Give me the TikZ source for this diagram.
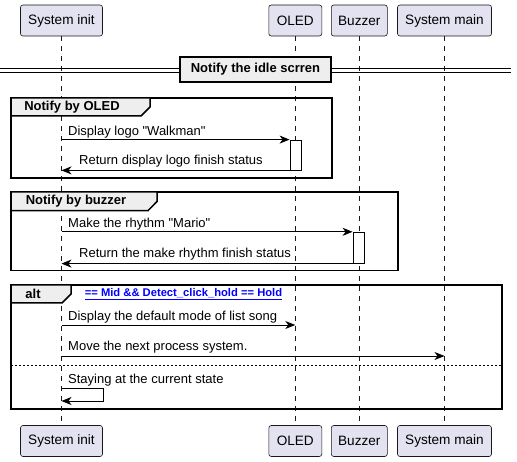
\documentclass[tikz,border=0pt]{standalone}
\usepackage{fontspec}
\setmainfont{Liberation Sans}[Ligatures=TeXOff]
\usetikzlibrary{arrows.meta}
\definecolor{partfill}{HTML}{E2E2F0}
\definecolor{grpfill}{HTML}{EEEEEE}
\definecolor{linegray}{HTML}{181818}
\tikzset{
  participant/.style={draw=linegray, fill=partfill, rounded corners=2.5pt, minimum height=31pt,
    inner sep=0pt, line width=0.6pt, font=\fontsize{13.6}{15}\selectfont},
  lifeline/.style={draw=linegray, line width=0.5pt, dash pattern=on 5pt off 5pt},
  msg/.style={-{Stealth[length=10pt,width=8pt,inset=3pt]}, line width=0.9pt},
  msgtext/.style={anchor=base west, inner sep=0pt, font=\fontsize{13}{15}\selectfont},
  frame/.style={line width=1.5pt},
  tab/.style={fill=grpfill, line width=1.5pt},
  grptitle/.style={inner sep=0pt, font=\fontsize{13}{15}\selectfont\bfseries},
  act/.style={draw, fill=white, line width=0.8pt, inner sep=0pt, minimum width=11pt},
}
\begin{document}
\begin{tikzpicture}[x=1pt,y=-1pt]
\useasboundingbox (0,0) rectangle (517,462);
% participants
\node[participant, minimum width=82pt] (init) at (61.5,20.5) {System init};
\node[participant, minimum width=53pt] (oled) at (295.3,20.5) {OLED};
\node[participant, minimum width=56pt] (buzz) at (359.3,20.5) {Buzzer};
\node[participant, minimum width=94pt] (main) at (444.5,20.5) {System main};
\node[participant, minimum width=82pt] (init-b) at (61.5,441) {System init};
\node[participant, minimum width=53pt] (oled-b) at (295.3,441) {OLED};
\node[participant, minimum width=56pt] (buzz-b) at (359.3,441) {Buzzer};
\node[participant, minimum width=94pt] (main-b) at (444.5,441) {System main};
\foreach \p in {init,oled,buzz,main}
  \draw[lifeline] (\p.south) -- (\p-b.north);

% divider
\draw[line width=0.9pt] (0,68) -- (511,68);
\draw[line width=0.9pt] (0,72) -- (511,72);
\node[draw, fill=grpfill, line width=1.5pt, minimum width=151pt, minimum height=25pt, grptitle] (idle) at (255.5,69.5) {Notify the idle scrren};

% group OLED
\draw[frame] (11,98) rectangle (332,178);
\draw[tab] (11,98) -- (150,98) -- (150,107) -- (141,116) -- (11,116) -- cycle;
\node[grptitle] (g1) at (72,107) {Notify by OLED};
\node[act, minimum height=30pt] (a1) at (295.5,155) {};
\node[msgtext] (t1) at (68,135.5) {Display logo "Walkman"};
\draw[msg] (init |- a1.north) -- (a1.north west);
\node[msgtext] (t2) at (79,164.5) {Return display logo finish status};
\draw[msg] (a1.south west) -- (init |- a1.south);

% group buzzer
\draw[frame] (11,192) rectangle (398,270.7);
\draw[tab] (11,192) -- (157,192) -- (157,201.5) -- (148,210.7) -- (11,210.7) -- cycle;
\node[grptitle] (g2) at (76,201.5) {Notify by buzzer};
\node[act, minimum height=31pt] (a2) at (358.5,247.7) {};
\node[msgtext] (t3) at (68,227.5) {Make the rhythm "Mario"};
\draw[msg] (init |- a2.north) -- (a2.north west);
\node[msgtext] (t4) at (79,257.5) {Return the make rhythm finish status};
\draw[msg] (a2.south west) -- (init |- a2.south);

% alt
\draw[frame] (11,285) rectangle (502,409);
\draw[tab] (11,285) -- (71,285) -- (71,294) -- (62,303) -- (11,303) -- cycle;
\node[grptitle] (g3) at (33,294) {alt};
\node[inner sep=0pt, text=blue, font=\fontsize{11.2}{13}\selectfont\bfseries] (cond) at (183.5,294) {\underline{== Mid \&\& Detect\_click\_hold == Hold}};
\node[msgtext] (t5) at (68,320.5) {Display the default mode of list song};
\draw[msg] (init |- 0,325) -- (oled |- 0,325);
\node[msgtext] (t6) at (68,351) {Move the next process system.};
\draw[msg] (init |- 0,356) -- (main |- 0,356);
\draw[line width=0.8pt, dash pattern=on 2pt off 2pt] (11,365) -- (502,365);
\node[msgtext] (t7) at (68,383.5) {Staying at the current state};
\draw[msg] (init |- 0,388) -- (103,388) -- (103,401) -- (init |- 0,401);
\end{tikzpicture}
\end{document}
